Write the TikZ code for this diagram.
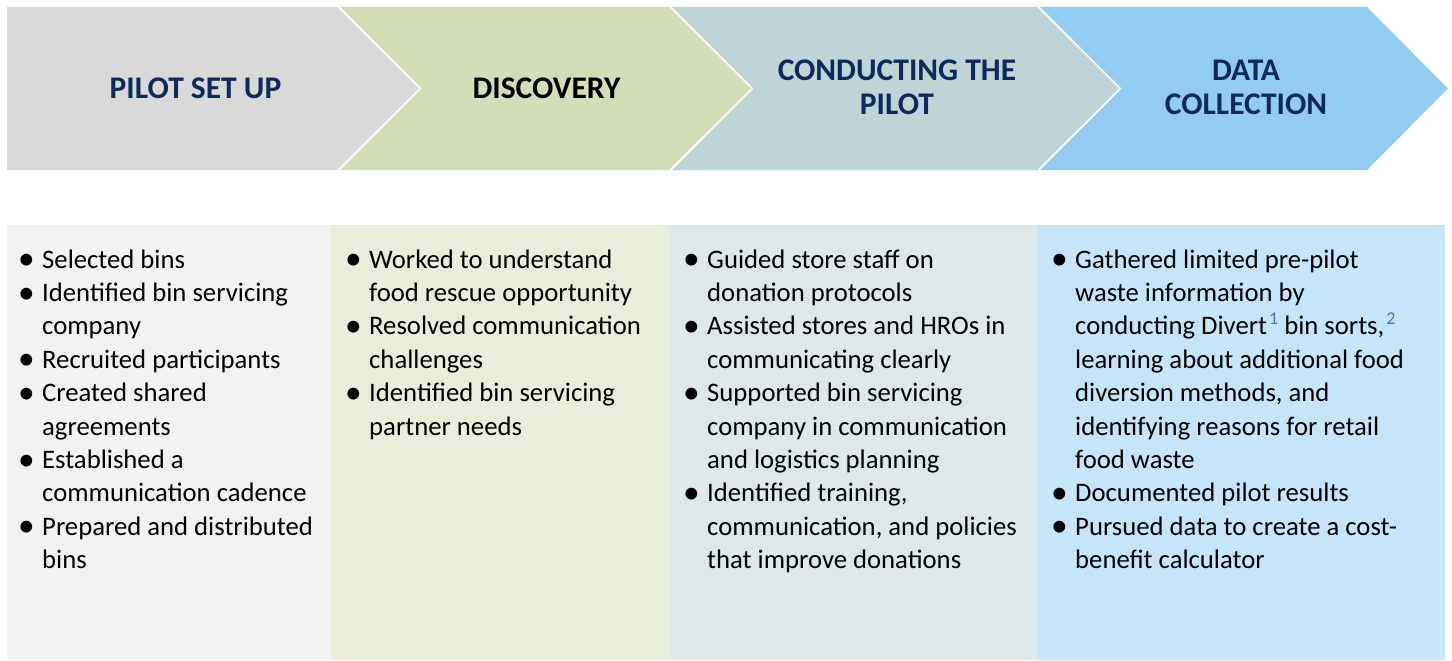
\documentclass[tikz,border=0pt]{standalone}
\usepackage{fontspec}
\setmainfont{Carlito}
\definecolor{cGray}{HTML}{D9D9D9}
\definecolor{cGreen}{HTML}{D3DEB8}
\definecolor{cSlate}{HTML}{BFD4D6}
\definecolor{cBlue}{HTML}{92CDF1}
\definecolor{pGray}{HTML}{F2F2F2}
\definecolor{pGreen}{HTML}{E8EEDA}
\definecolor{pSlate}{HTML}{DEE7E9}
\definecolor{pBlue}{HTML}{C6E5F8}
\definecolor{navy}{HTML}{0E2A5C}
\definecolor{supblue}{HTML}{4472C4}
\newcommand\bl{\makebox[24pt][l]{\raisebox{-1.6pt}{\scalebox{1.25}{\textbullet}}}}
\newcommand\ct{\hspace*{24pt}}
\newcommand\fn[1]{\hspace{2pt}\raisebox{10pt}{\fontsize{18}{18}\selectfont\color{supblue}#1}}
% lists are anchored at the baseline of their last line
\tikzset{
  head/.style={inner sep=0, align=center, text=navy,
    font=\bfseries\fontsize{31.5}{34}\selectfont},
  list/.style={anchor=base west, inner sep=0, align=left,
    font=\fontsize{26.7}{33.4}\selectfont},
}
\begin{document}
\begin{tikzpicture}[x=1pt, y=-1pt]
  \useasboundingbox[fill=white] (0,0) rectangle (1452,661);
  % process chevrons
  \fill[cGray]  (7,7) -- (337,7) -- (419,88.5) -- (337,170) -- (7,170) -- cycle;
  \fill[cGreen] (340,7) -- (669,7) -- (751,88.5) -- (669,170) -- (340,170) -- (421.5,88.5) -- cycle;
  \fill[cSlate] (672,7) -- (1037,7) -- (1119,88.5) -- (1037,170) -- (672,170) -- (753.5,88.5) -- cycle;
  \fill[cBlue]  (1040,7) -- (1367,7) -- (1448,88.5) -- (1367,170) -- (1040,170) -- (1121.5,88.5) -- cycle;
  % detail panels
  \fill[pGray]  (7,225) rectangle (331,660);
  \fill[pGreen] (331,225) rectangle (669,660);
  \fill[pSlate] (669,225) rectangle (1037,660);
  \fill[pBlue]  (1037,225) rectangle (1445,660);
  % stage titles
  \node[head] (h1) at (195.5,88) {PILOT SET UP};
  \node[head, text=black] (h2) at (546.5,88) {DISCOVERY};
  \node[head] (h3) at (897,87) {CONDUCTING THE\\PILOT};
  \node[head] (h4) at (1246,87) {DATA\\COLLECTION};
  % stage activities
  \node[list] (l1) at (18,568.6) {\bl Selected bins\\
    \bl Identified bin servicing\\ \ct company\\
    \bl Recruited participants\\
    \bl Created shared\\ \ct agreements\\
    \bl Established a\\ \ct communication cadence\\
    \bl Prepared and distributed\\ \ct bins};
  \node[list] (l2) at (345,435) {\bl Worked to understand\\ \ct food rescue opportunity\\
    \bl Resolved communication\\ \ct challenges\\
    \bl Identified bin servicing\\ \ct partner needs};
  \node[list] (l3) at (683,568.6) {\bl Guided store staff on\\ \ct donation protocols\\
    \bl Assisted stores and HROs in\\ \ct communicating clearly\\
    \bl Supported bin servicing\\ \ct company in communication\\ \ct and logistics planning\\
    \bl Identified training,\\ \ct communication, and policies\\ \ct that improve donations};
  \node[list] (l4) at (1051,568.6) {\bl Gathered limited pre-pilot\\ \ct waste information by\\
    \ct conducting Divert\fn{1} bin sorts,\fn{2}\\
    \ct learning about additional food\\ \ct diversion methods, and\\
    \ct identifying reasons for retail\\ \ct food waste\\
    \bl Documented pilot results\\
    \bl Pursued data to create a cost-\\ \ct benefit calculator};
\end{tikzpicture}
\end{document}
